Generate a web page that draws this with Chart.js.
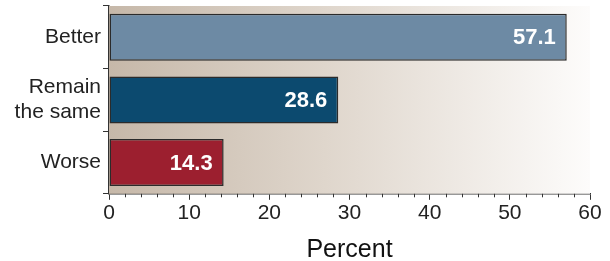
<!DOCTYPE html>
<html>
<head>
<meta charset="utf-8">
<script src="https://cdn.jsdelivr.net/npm/chart.js@4"></script>
<style>
  html, body { margin: 0; padding: 0; background: #fff; }
  #wrap { width: 610px; height: 261px; }
</style>
</head>
<body>
<div id="wrap"><canvas id="chart"></canvas></div>
<script>
const categories = ['Better', ['Remain', 'the same'], 'Worse'];
const percents = [57.1, 28.6, 14.3];
const barColors = ['#6d8aa4', '#0c4a6f', '#9c1f2f'];
const xTicks = [0, 10, 20, 30, 40, 50, 60];
const minorStep = 2;

const FONT = "'Liberation Sans', Arial, sans-serif";

// tan-to-white gradient behind the bars
const backdrop = {
  id: 'backdrop',
  beforeDatasetsDraw(chart) {
    const { ctx, chartArea: a } = chart;
    const g = ctx.createLinearGradient(a.left, 0, a.right, 0);
    g.addColorStop(0, '#c6b8a9');
    g.addColorStop(0.45, '#dfd6cc');
    g.addColorStop(1, '#fdfcfb');
    ctx.save();
    ctx.fillStyle = g;
    ctx.fillRect(a.left, a.top, a.right - a.left, a.bottom - a.top);
    ctx.restore();
  }
};

// short minor ticks under the x axis
const minorTicks = {
  id: 'minorTicks',
  afterDraw(chart) {
    const { ctx } = chart;
    const x = chart.scales.x;
    ctx.save();
    ctx.strokeStyle = '#333';
    ctx.lineWidth = 1;
    for (let v = 0; v <= 60; v += minorStep) {
      if (v % 10 === 0) continue;
      const px = Math.round(x.getPixelForValue(v)) + 0.5;
      ctx.beginPath();
      ctx.moveTo(px, x.top);
      ctx.lineTo(px, x.top + 3.5);
      ctx.stroke();
    }
    ctx.restore();
  }
};

// white value labels at the end of each bar
const valueLabels = {
  id: 'valueLabels',
  afterDatasetsDraw(chart) {
    const { ctx } = chart;
    const meta = chart.getDatasetMeta(0);
    ctx.save();
    ctx.fillStyle = '#fff';
    ctx.font = `bold 22px ${FONT}`;
    ctx.textAlign = 'right';
    ctx.textBaseline = 'middle';
    meta.data.forEach((bar, i) => {
      ctx.fillText(percents[i].toFixed(1), bar.x - 11, bar.y + 1);
    });
    ctx.restore();
  }
};

new Chart(document.getElementById('chart'), {
  type: 'bar',
  data: {
    labels: categories,
    datasets: [{
      data: percents,
      backgroundColor: barColors,
      borderColor: '#2b2b2b',
      borderWidth: 1.5,
      borderSkipped: false,
      barPercentage: 0.75,
      categoryPercentage: 1
    }]
  },
  options: {
    indexAxis: 'y',
    responsive: true,
    maintainAspectRatio: false,
    animation: false,
    layout: { padding: { top: 6, right: 20, left: 0, bottom: -2 } },
    plugins: {
      legend: { display: false },
      tooltip: { enabled: false }
    },
    scales: {
      x: {
        min: 0,
        max: 60,
        afterBuildTicks: (scale) => { scale.ticks = xTicks.map((value) => ({ value })); },
        grid: { drawOnChartArea: false, drawTicks: true, tickLength: 6, tickColor: '#333' },
        border: { display: true, color: '#333', width: 1.5 },
        ticks: { font: { family: FONT, size: 21 }, color: '#222', padding: 1, maxRotation: 0 },
        title: {
          display: true,
          text: 'Percent',
          font: { family: FONT, size: 25, lineHeight: 1 },
          color: '#111',
          padding: { top: 11, bottom: 0 }
        }
      },
      y: {
        afterFit: (scale) => {
          scale.width = 109;
          scale.paddingTop = 0;
          scale.paddingBottom = 0;
        },
        grid: { drawOnChartArea: false, drawTicks: true, tickLength: 6, tickColor: '#333' },
        border: { display: true, color: '#333', width: 1.5 },
        ticks: { font: { family: FONT, size: 21 }, color: '#222', padding: 2 }
      }
    }
  },
  plugins: [backdrop, minorTicks, valueLabels]
});
</script>
</body>
</html>
